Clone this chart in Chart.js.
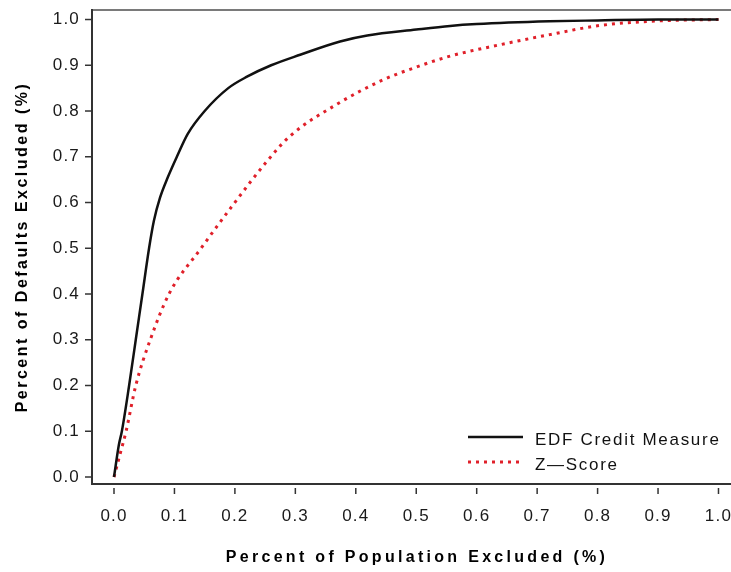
<!DOCTYPE html>
<html>
<head>
<meta charset="utf-8">
<script src="https://cdn.jsdelivr.net/npm/chart.js@4/dist/chart.umd.min.js"></script>
<style>
  html, body { margin: 0; padding: 0; background: #fff; }
  #wrap { width: 731px; height: 572px; position: relative; }
</style>
</head>
<body>
<div id="wrap"><canvas id="c" width="731" height="572"></canvas></div>
<script>
// ---- data ----
const edfX = [0, 0.008, 0.013, 0.025, 0.036, 0.047, 0.058, 0.066, 0.076, 0.089, 0.104, 0.122, 0.15, 0.189, 0.22, 0.26, 0.308, 0.374, 0.419, 0.5, 0.556, 0.6, 0.72, 0.8, 0.9, 1.0];
const edfY = [0, 0.07, 0.1, 0.2, 0.3, 0.4, 0.5, 0.56, 0.61, 0.655, 0.7, 0.75, 0.8, 0.85, 0.875, 0.9, 0.923, 0.952, 0.965, 0.978, 0.986, 0.99, 0.996, 0.998, 1.0, 1.0];
const zX = [0, 0.01, 0.02, 0.036, 0.06, 0.091, 0.144, 0.197, 0.253, 0.291, 0.369, 0.445, 0.5, 0.556, 0.639, 0.721, 0.804, 0.9, 1.0];
const zY = [0, 0.05, 0.1, 0.2, 0.3, 0.4, 0.5, 0.595, 0.69, 0.745, 0.815, 0.868, 0.896, 0.92, 0.945, 0.967, 0.987, 0.997, 1.0];
const seriesLabels = ['EDF Credit Measure', 'Z\u2014Score'];
const xTickValues = [0, 0.1, 0.2, 0.3, 0.4, 0.5, 0.6, 0.7, 0.8, 0.9, 1.0];
const yTickValues = [0, 0.1, 0.2, 0.3, 0.4, 0.5, 0.6, 0.7, 0.8, 0.9, 1.0];
const xTitle = 'Percent of Population Excluded (%)';
const yTitle = 'Percent of Defaults Excluded (%)';

const FONT = '"Liberation Sans", Arial, Helvetica, sans-serif';

function pts(xs, ys) { return xs.map((v, i) => ({ x: v, y: ys[i] })); }

const decor = {
  id: 'decor',
  beforeDraw(chart) {
    chart.ctx.letterSpacing = '1.2px';
  },
  afterDraw(chart) {
    const { ctx, chartArea: a, scales: { x, y } } = chart;
    ctx.save();
    ctx.letterSpacing = '0px';
    const seg = (x1, y1, x2, y2) => { ctx.beginPath(); ctx.moveTo(x1, y1); ctx.lineTo(x2, y2); ctx.stroke(); };
    // frame (left, top, bottom)
    ctx.lineWidth = 2;
    ctx.strokeStyle = '#7a7a7a';
    seg(a.left, a.top, a.right + 2, a.top);
    ctx.strokeStyle = '#333';
    seg(a.left, a.top - 1, a.left, a.bottom + 1);
    seg(a.left - 1, a.bottom, a.right + 2, a.bottom);
    // tick marks
    ctx.lineWidth = 1.5;
    ctx.strokeStyle = '#333';
    yTickValues.forEach(v => { const py = y.getPixelForValue(v); seg(a.left - 7, py, a.left, py); });
    xTickValues.forEach(v => { const px = x.getPixelForValue(v); seg(px, a.bottom + 4, px, a.bottom + 10); });
    // legend
    chart.data.datasets.forEach((ds, i) => {
      const ly = a.bottom - 47 + i * 25;
      ctx.save();
      ctx.strokeStyle = ds.borderColor;
      ctx.lineWidth = ds.borderWidth;
      ctx.setLineDash(ds.borderDash || []);
      seg(468, ly, 523, ly);
      ctx.restore();
      ctx.fillStyle = '#111';
      ctx.font = '17px ' + FONT;
      ctx.letterSpacing = '1.7px';
      ctx.textAlign = 'left';
      ctx.textBaseline = 'middle';
      ctx.fillText(ds.label, 535, ly + 3);
    });
    // axis titles
    ctx.fillStyle = '#000';
    ctx.font = 'bold 16px ' + FONT;
    ctx.textAlign = 'center';
    ctx.textBaseline = 'alphabetic';
    ctx.letterSpacing = '3.3px';
    ctx.fillText(xTitle, 417, 562);
    ctx.save();
    ctx.translate(27, 247);
    ctx.rotate(-Math.PI / 2);
    ctx.letterSpacing = '2.5px';
    ctx.fillText(yTitle, 0, 0);
    ctx.restore();
    ctx.restore();
  }
};

new Chart(document.getElementById('c'), {
  type: 'line',
  data: {
    datasets: [
      {
        label: seriesLabels[0],
        data: pts(edfX, edfY),
        borderColor: '#111111',
        borderWidth: 2.5,
        pointRadius: 0,
        fill: false,
        cubicInterpolationMode: 'monotone'
      },
      {
        label: seriesLabels[1],
        data: pts(zX, zY),
        borderColor: '#e0202a',
        borderWidth: 3,
        borderDash: [3, 5],
        pointRadius: 0,
        fill: false,
        cubicInterpolationMode: 'monotone'
      }
    ]
  },
  options: {
    responsive: false,
    animation: false,
    devicePixelRatio: 1,
    layout: { padding: { top: 10, right: 0, left: 0, bottom: 0 } },
    plugins: { legend: { display: false }, tooltip: { enabled: false } },
    scales: {
      x: {
        type: 'linear',
        min: -0.0364,
        max: 1.0207,
        grid: { display: false, drawTicks: false },
        border: { display: false },
        afterBuildTicks: s => { s.ticks = xTickValues.map(v => ({ value: v })); },
        afterFit: s => { s.height = 88; s.paddingLeft = 0; s.paddingRight = 0; },
        ticks: {
          callback: v => Number(v).toFixed(1),
          color: '#1a1a1a',
          font: { family: FONT, size: 17 },
          padding: 22,
          maxRotation: 0,
          autoSkip: false
        }
      },
      y: {
        type: 'linear',
        min: -0.0153,
        max: 1.0208,
        grid: { display: false, drawTicks: false },
        border: { display: false },
        afterBuildTicks: s => { s.ticks = yTickValues.map(v => ({ value: v })); },
        afterFit: s => { s.width = 92; s.paddingTop = 0; s.paddingBottom = 0; },
        ticks: {
          callback: v => Number(v).toFixed(1),
          color: '#1a1a1a',
          font: { family: FONT, size: 17 },
          padding: 12,
          autoSkip: false
        }
      }
    }
  },
  plugins: [decor]
});
</script>
</body>
</html>
